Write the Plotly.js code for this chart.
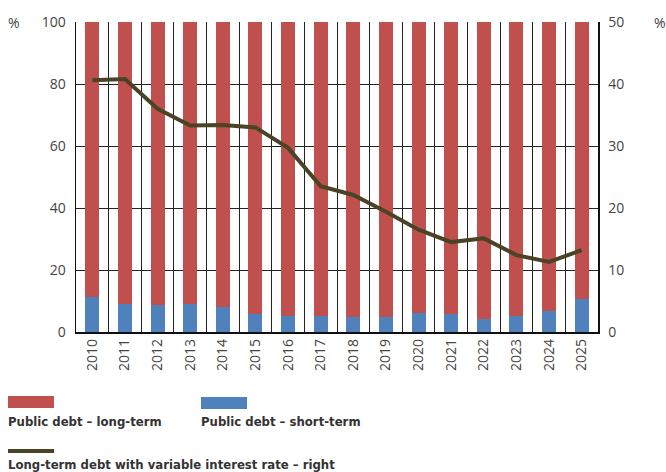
<!DOCTYPE html>
<html><head><meta charset="utf-8">
<script src="https://cdn.plot.ly/plotly-3.0.1.min.js"></script>
<style>html,body{margin:0;padding:0;background:#fff}#chart{width:666px;height:472px}</style>
</head><body><div id="chart"></div>
<script>
const years = ['2010','2011','2012','2013','2014','2015','2016','2017','2018','2019','2020','2021','2022','2023','2024','2025'];
const shortTerm = [11.2, 8.9, 8.6, 8.9, 8.0, 5.7, 5.1, 5.1, 4.7, 4.7, 6.0, 5.7, 4.2, 5.1, 6.8, 10.5];
const longTerm = shortTerm.map(v => +(100 - v).toFixed(1));
const variableRate = [40.6, 40.8, 36.0, 33.3, 33.4, 33.0, 29.7, 23.5, 22.1, 19.4, 16.5, 14.5, 15.1, 12.4, 11.3, 13.2];
const leftTicks = [0, 20, 40, 60, 80, 100];
const rightTicks = [0, 10, 20, 30, 40, 50];

const red = '#c0504d', blue = '#4f81bd', olive = '#4a4426';
const tickFont = {family: 'Open Sans, Noto Sans, sans-serif', size: 14, color: '#444'};
const legFont = {family: 'DejaVu Sans Condensed, sans-serif', size: 13, color: '#333'};

// plot area in px: x 76..598, y 22..332
const L = 76, R = 598, T = 22, B = 332;
const px = x => (x - L) / (R - L);
const py = y => (B - y) / (B - T);

const data = [
  {type: 'bar', x: years, y: shortTerm, name: 'Public debt – short-term', marker: {color: blue}, hoverinfo: 'skip'},
  {type: 'bar', x: years, y: longTerm, name: 'Public debt – long-term', marker: {color: red}, hoverinfo: 'skip'},
  {type: 'scatter', mode: 'lines', x: years, y: variableRate, yaxis: 'y2', name: 'Long-term debt with variable interest rate – right', line: {color: olive, width: 4}, hoverinfo: 'skip'}
];

const layout = {
  width: 666, height: 472,
  margin: {l: L, r: 666 - R, t: T, b: 472 - B},
  paper_bgcolor: '#fff', plot_bgcolor: '#fff',
  barmode: 'stack', bargap: 0.57,
  showlegend: false,
  xaxis: {type: 'category', tickson: 'boundaries', showgrid: true, gridcolor: '#222', gridwidth: 1,
    showline: true, linecolor: '#111', linewidth: 1.5, ticks: '', tickangle: -90, tickfont: tickFont,
    range: [-0.5, 15.5], fixedrange: true},
  yaxis: {range: [0, 100], tickvals: leftTicks, showgrid: true, gridcolor: '#222', gridwidth: 1,
    showline: true, linecolor: '#111', linewidth: 1.5, ticks: '', tickfont: tickFont, zeroline: false,
    ticklabelstandoff: 6},
  yaxis2: {overlaying: 'y', side: 'right', range: [0, 50], tickvals: rightTicks, showgrid: false,
    showline: true, linecolor: '#111', linewidth: 1.5, ticks: '', tickfont: tickFont, zeroline: false,
    ticklabelstandoff: 6},
  shapes: [
    {type: 'rect', xref: 'paper', yref: 'paper', x0: px(8), x1: px(54), y0: py(408), y1: py(396), fillcolor: red, line: {width: 0}},
    {type: 'rect', xref: 'paper', yref: 'paper', x0: px(201), x1: px(247), y0: py(409), y1: py(397), fillcolor: blue, line: {width: 0}},
    {type: 'line', xref: 'paper', yref: 'paper', x0: px(8), x1: px(54), y0: py(451), y1: py(451), line: {color: olive, width: 4}}
  ],
  annotations: [
    {xref: 'paper', yref: 'paper', x: px(6), y: py(22), text: '%', showarrow: false, xanchor: 'left', yanchor: 'middle', font: tickFont},
    {xref: 'paper', yref: 'paper', x: px(652), y: py(22), text: '%', showarrow: false, xanchor: 'left', yanchor: 'middle', font: tickFont},
    {xref: 'paper', yref: 'paper', x: px(6), y: py(421), text: '<b>Public debt – long-term</b>', showarrow: false, xanchor: 'left', yanchor: 'middle', font: legFont},
    {xref: 'paper', yref: 'paper', x: px(199), y: py(421), text: '<b>Public debt – short-term</b>', showarrow: false, xanchor: 'left', yanchor: 'middle', font: legFont},
    {xref: 'paper', yref: 'paper', x: px(6), y: py(464), text: '<b>Long-term debt with variable interest rate – right</b>', showarrow: false, xanchor: 'left', yanchor: 'middle', font: legFont}
  ]
};

Plotly.newPlot('chart', data, layout, {staticPlot: true, displayModeBar: false});
</script></body></html>
